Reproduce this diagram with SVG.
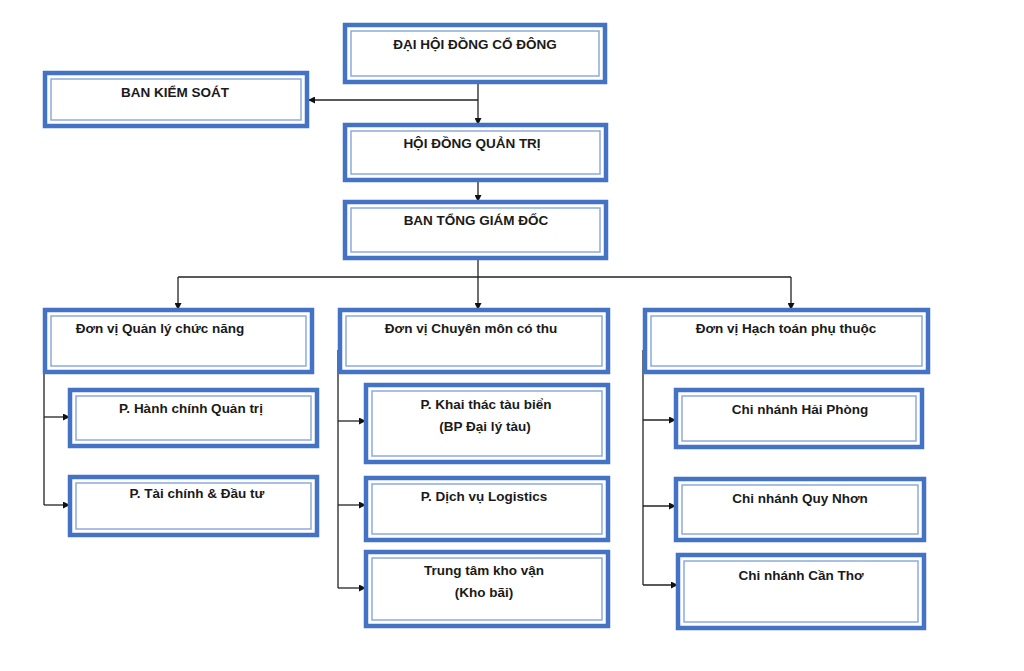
<svg xmlns="http://www.w3.org/2000/svg" width="1024" height="671" viewBox="0 0 1024 671">
<defs>
<style>
.o{fill:#fff;stroke:#4472C4;stroke-width:4.5}
.i{fill:none;stroke:#8eaadb;stroke-width:1.5}
.t{font-family:"Liberation Sans",Arial,sans-serif;font-weight:bold;font-size:13.5px;fill:#1a1a1a;text-anchor:middle}
.c{fill:none;stroke:#222;stroke-width:1.3}
</style>
<marker id="a" viewBox="0 0 10 10" refX="10" refY="5" markerWidth="7" markerHeight="7" markerUnits="userSpaceOnUse" orient="auto"><path d="M0,0L10,5L0,10z" fill="#111"/></marker>
</defs>
<rect width="1024" height="671" fill="#fff"/>
<g id="connectors">
<path class="c" d="M478,82V125" marker-end="url(#a)"/>
<path class="c" d="M478,100H308" marker-end="url(#a)"/>
<path class="c" d="M478,180V202" marker-end="url(#a)"/>
<path class="c" d="M478,258V310" marker-end="url(#a)"/>
<path class="c" d="M178,277H791"/>
<path class="c" d="M178,277V310" marker-end="url(#a)"/>
<path class="c" d="M791,277V310" marker-end="url(#a)"/>
<path class="c" d="M44,348V505"/>
<path class="c" d="M44,417H70" marker-end="url(#a)"/>
<path class="c" d="M44,505H70" marker-end="url(#a)"/>
<path class="c" d="M338,350V588"/>
<path class="c" d="M338,421H366" marker-end="url(#a)"/>
<path class="c" d="M338,505H366" marker-end="url(#a)"/>
<path class="c" d="M338,588H366" marker-end="url(#a)"/>
<path class="c" d="M643,350V585"/>
<path class="c" d="M643,420H676" marker-end="url(#a)"/>
<path class="c" d="M643,506H676" marker-end="url(#a)"/>
<path class="c" d="M643,585H678" marker-end="url(#a)"/>
</g>
<g id="dhdcd"><rect class="o" x="345" y="25" width="260" height="57"/><rect class="i" x="351" y="31" width="248" height="45"/><text class="t" x="475" y="49">ĐẠI HỘI ĐỒNG CỔ ĐÔNG</text></g>
<g id="bks"><rect class="o" x="45" y="73" width="262" height="53"/><rect class="i" x="51" y="79" width="250" height="41"/><text class="t" x="175" y="97">BAN KIỂM SOÁT</text></g>
<g id="hdqt"><rect class="o" x="345" y="125" width="261" height="55"/><rect class="i" x="351" y="131" width="249" height="43"/><text class="t" x="472" y="148">HỘI ĐỒNG QUẢN TRỊ</text></g>
<g id="btgd"><rect class="o" x="345" y="202" width="261" height="56"/><rect class="i" x="351" y="208" width="249" height="44"/><text class="t" x="476" y="225">BAN TỔNG GIÁM ĐỐC</text></g>
<g id="dv1"><rect class="o" x="45" y="310" width="267" height="62"/><rect class="i" x="51" y="316" width="255" height="50"/><text class="t" x="160" y="333">Đơn vị Quản lý chức năng</text></g>
<g id="dv2"><rect class="o" x="340" y="310" width="268" height="62"/><rect class="i" x="346" y="316" width="256" height="50"/><text class="t" x="471" y="333">Đơn vị Chuyên môn có thu</text></g>
<g id="dv3"><rect class="o" x="645" y="310" width="283" height="62"/><rect class="i" x="651" y="316" width="271" height="50"/><text class="t" x="786" y="333">Đơn vị Hạch toán phụ thuộc</text></g>
<g id="hcqt"><rect class="o" x="70" y="390" width="247" height="56"/><rect class="i" x="76" y="396" width="235" height="44"/><text class="t" x="191" y="413">P. Hành chính Quản trị</text></g>
<g id="tcdt"><rect class="o" x="70" y="477" width="247" height="58"/><rect class="i" x="76" y="483" width="235" height="46"/><text class="t" x="197" y="498">P. Tài chính &amp; Đầu tư</text></g>
<g id="ktt"><rect class="o" x="366" y="385" width="242" height="77"/><rect class="i" x="372" y="391" width="230" height="65"/><text class="t" x="486" y="409">P. Khai thác tàu biển</text><text class="t" x="485" y="431">(BP Đại lý tàu)</text></g>
<g id="dvl"><rect class="o" x="366" y="478" width="242" height="62"/><rect class="i" x="372" y="484" width="230" height="50"/><text class="t" x="484" y="501">P. Dịch vụ Logistics</text></g>
<g id="ttkv"><rect class="o" x="366" y="552" width="242" height="74"/><rect class="i" x="372" y="558" width="230" height="62"/><text class="t" x="484" y="575">Trung tâm kho vận</text><text class="t" x="484" y="597">(Kho bãi)</text></g>
<g id="cnhp"><rect class="o" x="676" y="390" width="246" height="57"/><rect class="i" x="682" y="396" width="234" height="45"/><text class="t" x="800" y="414">Chi nhánh Hải Phòng</text></g>
<g id="cnqn"><rect class="o" x="676" y="479" width="248" height="61"/><rect class="i" x="682" y="485" width="236" height="49"/><text class="t" x="800" y="503">Chi nhánh Quy Nhơn</text></g>
<g id="cnct"><rect class="o" x="678" y="555" width="246" height="73"/><rect class="i" x="684" y="561" width="234" height="61"/><text class="t" x="801" y="580">Chi nhánh Cần Thơ</text></g>
</svg>
